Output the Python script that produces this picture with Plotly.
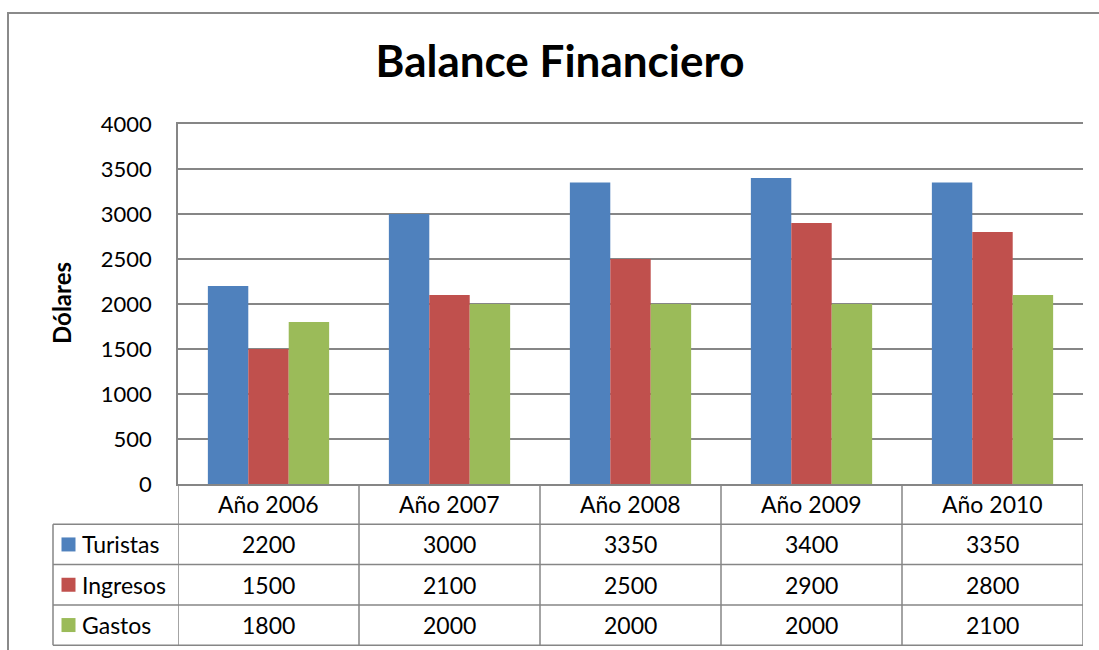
import plotly.graph_objects as go

# ---- data ----
categories = ["Año 2006", "Año 2007", "Año 2008", "Año 2009", "Año 2010"]
series_names = ["Turistas", "Ingresos", "Gastos"]
turistas = [2200, 3000, 3350, 3400, 3350]
ingresos = [1500, 2100, 2500, 2900, 2800]
gastos = [1800, 2000, 2000, 2000, 2100]
series_values = [turistas, ingresos, gastos]
colors = ["#4F81BD", "#C0504D", "#9BBB59"]
y_ticks = list(range(0, 4001, 500))

# ---- layout geometry (pixels) ----
W, H = 1099, 650
L, R, T, B = 178, 16, 124, 166
PW, PH = W - L - R, H - T - B
ROW = 40.3
TABLE_LEFT = 53
FONT = "Lato"
GRID = "#868686"
TFS = 23


def px_x(px):
    return (px - L) / PW


def px_y(py):
    return (H - B - py) / PH


fig = go.Figure()
for name, vals, col in zip(series_names, series_values, colors):
    fig.add_trace(go.Bar(x=categories, y=vals, name=name,
                         marker=dict(color=col, line=dict(width=0))))

shapes = []
annotations = []

# outer chart border
shapes.append(dict(type="rect", xref="paper", yref="paper",
                   x0=px_x(8), x1=px_x(1130), y0=px_y(680), y1=px_y(13),
                   line=dict(color="#8a8a8a", width=2), layer="below"))

# table horizontal lines
for k in range(1, 5):
    yy = -k * ROW / PH
    shapes.append(dict(type="line", xref="paper", yref="paper",
                       x0=px_x(TABLE_LEFT), x1=1, y0=yy, y1=yy,
                       line=dict(color=GRID, width=1.5)))
# table vertical lines at category boundaries
n = len(categories)
for j in range(n + 1):
    shapes.append(dict(type="line", xref="x", yref="paper",
                       x0=j - 0.5, x1=j - 0.5, y0=0, y1=-4 * ROW / PH,
                       line=dict(color=GRID, width=1.5)))
# left border of legend column
shapes.append(dict(type="line", xref="paper", yref="paper",
                   x0=px_x(TABLE_LEFT), x1=px_x(TABLE_LEFT),
                   y0=-ROW / PH, y1=-4 * ROW / PH,
                   line=dict(color=GRID, width=1.5)))

# header row labels
for j, c in enumerate(categories):
    annotations.append(dict(x=c, y=-0.5 * ROW / PH, xref="x", yref="paper",
                            text=c, showarrow=False, xanchor="center", yanchor="middle",
                            font=dict(family=FONT, size=TFS, color="black")))

# data rows
for i, (name, vals, col) in enumerate(zip(series_names, series_values, colors)):
    yc = -(i + 1.5) * ROW / PH
    # legend key
    shapes.append(dict(type="rect", xref="paper", yref="paper",
                       x0=px_x(61.5), x1=px_x(75.5),
                       y0=yc - 7 / PH, y1=yc + 7 / PH,
                       fillcolor=col, line=dict(width=0)))
    annotations.append(dict(x=px_x(80), y=yc, xref="paper", yref="paper",
                            text=name, showarrow=False, xanchor="left", yanchor="middle",
                            font=dict(family=FONT, size=TFS, color="black")))
    for j, v in enumerate(vals):
        annotations.append(dict(x=categories[j], y=yc, xref="x", yref="paper",
                                text=str(v), showarrow=False, xanchor="center",
                                yanchor="middle",
                                font=dict(family=FONT, size=TFS, color="black")))

# y axis title
annotations.append(dict(x=px_x(61), y=px_y(303), xref="paper", yref="paper",
                        text="<b>Dólares</b>", textangle=-90, showarrow=False,
                        xanchor="center", yanchor="middle",
                        font=dict(family=FONT, size=24, color="black")))

fig.update_layout(
    width=W, height=H,
    margin=dict(l=L, r=R, t=T, b=B),
    paper_bgcolor="white", plot_bgcolor="white",
    barmode="group", bargap=0.33, bargroupgap=0,
    showlegend=False,
    title=dict(text="<b>Balance Financiero</b>", x=(560) / W, xanchor="center",
               y=1 - 62 / H, yanchor="middle",
               font=dict(family=FONT, size=44, color="black")),
    font=dict(family=FONT, color="black"),
    shapes=shapes, annotations=annotations,
)
fig.update_xaxes(showticklabels=False, ticks="", showgrid=False,
                 showline=True, mirror=True, linecolor=GRID, linewidth=1.5,
                 range=[-0.5, n - 0.5], fixedrange=True)
fig.update_yaxes(range=[0, 4000], tickvals=y_ticks, showgrid=True,
                 gridcolor=GRID, gridwidth=1.5, showline=True,
                 linecolor=GRID, linewidth=1.5, ticks="", zeroline=False,
                 ticklabelstandoff=20,
                 tickfont=dict(family=FONT, size=22, color="black"))

fig.write_html("out.html", config={"displayModeBar": False},
               post_script="document.body.style.margin='0px';")
